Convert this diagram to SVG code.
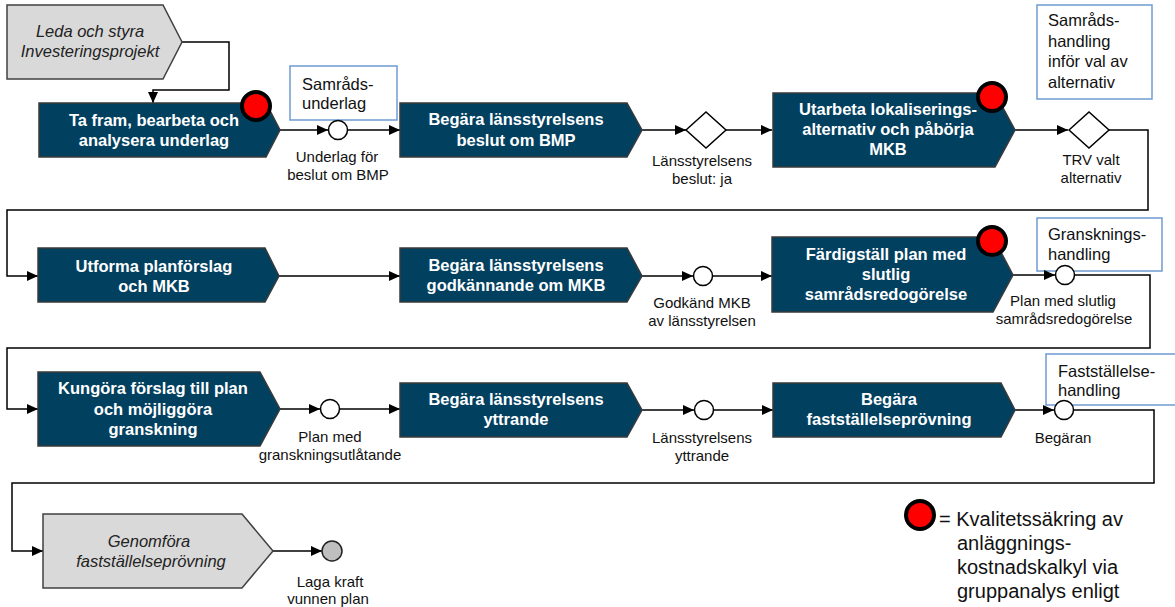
<svg xmlns="http://www.w3.org/2000/svg" width="1175" height="607" viewBox="0 0 1175 607">
<defs>
<marker id="arr" markerUnits="userSpaceOnUse" markerWidth="12" markerHeight="10" refX="11" refY="5" orient="auto">
<path d="M0,0 L11,5 L0,10 Z" fill="#000"/>
</marker>
<style>
.proc{fill:#02405f;stroke:#3a3a3a;stroke-width:1.5}
.ext{fill:#d9d9d9;stroke:#404040;stroke-width:1.5}
.pt{font-family:"Liberation Sans",Arial,sans-serif;font-size:16.5px;font-weight:bold;fill:#fff;text-anchor:middle}
.et{font-family:"Liberation Sans",Arial,sans-serif;font-size:16.5px;font-style:italic;fill:#222;text-anchor:middle}
.lb{font-family:"Liberation Sans",Arial,sans-serif;font-size:15px;fill:#111;text-anchor:middle}
.bt{font-family:"Liberation Sans",Arial,sans-serif;font-size:16.5px;fill:#111}
.doc{fill:#fff;stroke:#6f9bd0;stroke-width:1.5}
.con{fill:none;stroke:#000;stroke-width:1.5}
.ev{fill:#fff;stroke:#000;stroke-width:1.5}
.qa{fill:#f00;stroke:#000;stroke-width:4}
</style>
</defs>
<rect width="1175" height="607" fill="#fff"/>

<!-- document boxes -->
<g id="doc1"><rect class="doc" x="290" y="66" width="107" height="54"/><text class="bt" x="302" y="90">Samråds-</text><text class="bt" x="302" y="109">underlag</text></g>
<g id="doc2"><rect class="doc" x="1037" y="5" width="115" height="94"/><text class="bt" x="1048" y="26">Samråds-</text><text class="bt" x="1048" y="47">handling</text><text class="bt" x="1048" y="67">inför val av</text><text class="bt" x="1048" y="88">alternativ</text></g>
<g id="doc3"><rect class="doc" x="1037" y="218" width="125" height="53"/><text class="bt" x="1048" y="240">Gransknings-</text><text class="bt" x="1048" y="260">handling</text></g>
<g id="doc4"><rect class="doc" x="1046" y="354" width="135" height="51"/><text class="bt" x="1058" y="377">Fastställelse-</text><text class="bt" x="1058" y="396">handling</text></g>

<!-- connectors -->
<g id="connectors">
<path class="con" d="M182,42 H229 V90 H153 V103" marker-end="url(#arr)"/>
<path class="con" d="M280,130 H328" marker-end="url(#arr)"/>
<path class="con" d="M348,130 H400" marker-end="url(#arr)"/>
<path class="con" d="M642,130 H686" marker-end="url(#arr)"/>
<path class="con" d="M726,130 H772" marker-end="url(#arr)"/>
<path class="con" d="M1015,130 H1068" marker-end="url(#arr)"/>
<path class="con" d="M1109,130 H1148 V210 H7 V276 H38" marker-end="url(#arr)"/>
<path class="con" d="M279,276 H400" marker-end="url(#arr)"/>
<path class="con" d="M642,276 H693" marker-end="url(#arr)"/>
<path class="con" d="M713,276 H772" marker-end="url(#arr)"/>
<path class="con" d="M1013,275 H1055" marker-end="url(#arr)"/>
<path class="con" d="M1075,275 H1150 V348 H7 V409 H38" marker-end="url(#arr)"/>
<path class="con" d="M280,409 H320" marker-end="url(#arr)"/>
<path class="con" d="M340,409 H400" marker-end="url(#arr)"/>
<path class="con" d="M642,410 H694" marker-end="url(#arr)"/>
<path class="con" d="M714,410 H773" marker-end="url(#arr)"/>
<path class="con" d="M1015,410 H1054" marker-end="url(#arr)"/>
<path class="con" d="M1074,410 H1154 V483 H12 V551 H43" marker-end="url(#arr)"/>
<path class="con" d="M273,551 H322" marker-end="url(#arr)"/>
</g>

<!-- events / gateways -->
<g id="e1"><circle class="ev" cx="338" cy="130" r="9.5"/><text class="lb" x="337" y="162">Underlag för</text><text class="lb" x="338" y="180">beslut om BMP</text></g>
<g id="g1"><path class="ev" d="M686,130 L706,112 L726,130 L706,148 Z"/><text class="lb" x="702" y="166">Länsstyrelsens</text><text class="lb" x="702" y="184">beslut: ja</text></g>
<g id="g2"><path class="ev" d="M1069,130 L1089,112 L1109,130 L1089,148 Z"/><text class="lb" x="1091" y="165">TRV valt</text><text class="lb" x="1091" y="183">alternativ</text></g>
<g id="e2"><circle class="ev" cx="703" cy="276" r="9.5"/><text class="lb" x="702" y="308">Godkänd MKB</text><text class="lb" x="702" y="326">av länsstyrelsen</text></g>
<g id="e3"><circle class="ev" cx="1065" cy="275" r="9.5"/><text class="lb" x="1063" y="306">Plan med slutlig</text><text class="lb" x="1064" y="324">samrådsredogörelse</text></g>
<g id="e4"><circle class="ev" cx="330" cy="409" r="9.5"/><text class="lb" x="330" y="442">Plan med</text><text class="lb" x="330" y="460">granskningsutlåtande</text></g>
<g id="e5"><circle class="ev" cx="704" cy="410" r="9.5"/><text class="lb" x="702" y="443">Länsstyrelsens</text><text class="lb" x="702" y="461">yttrande</text></g>
<g id="e6"><circle class="ev" cx="1064" cy="410" r="9.5"/><text class="lb" x="1063" y="443">Begäran</text></g>
<g id="e7"><circle cx="332" cy="551" r="10" fill="#bfbfbf" stroke="#222" stroke-width="1.5"/><text class="lb" x="330" y="587">Laga kraft</text><text class="lb" x="328" y="604">vunnen plan</text></g>

<!-- process nodes -->
<g id="n0"><path class="ext" d="M7,5 H163 L182,42 L163,79 H7 Z"/><text class="et" x="90" y="37">Leda och styra</text><text class="et" x="90" y="57">Investeringsprojekt</text></g>
<g id="n1"><path class="proc" d="M39,103 H266 L280,130 L266,157 H39 Z"/><text class="pt" x="154" y="126">Ta fram, bearbeta och</text><text class="pt" x="154" y="146">analysera underlag</text><circle class="qa" cx="256" cy="106" r="14"/></g>
<g id="n2"><path class="proc" d="M400,103 H627 L642,130 L627,157 H400 Z"/><text class="pt" x="516" y="125">Begära länsstyrelsens</text><text class="pt" x="516" y="146">beslut om BMP</text></g>
<g id="n3"><path class="proc" d="M773,93 H995 L1015,130 L995,167 H773 Z"/><text class="pt" x="888" y="115">Utarbeta lokaliserings-</text><text class="pt" x="888" y="135">alternativ och påbörja</text><text class="pt" x="888" y="155">MKB</text><circle class="qa" cx="992" cy="97" r="14"/></g>
<g id="n4"><path class="proc" d="M38,248 H265 L279,276 L265,302 H38 Z"/><text class="pt" x="154" y="272">Utforma planförslag</text><text class="pt" x="154" y="292">och MKB</text></g>
<g id="n5"><path class="proc" d="M400,248 H627 L642,276 L627,302 H400 Z"/><text class="pt" x="516" y="271">Begära länsstyrelsens</text><text class="pt" x="516" y="291">godkännande om MKB</text></g>
<g id="n6"><path class="proc" d="M772,237 H993 L1013,275 L993,312 H772 Z"/><text class="pt" x="886" y="260">Färdigställ plan med</text><text class="pt" x="886" y="280">slutlig</text><text class="pt" x="886" y="300">samrådsredogörelse</text><circle class="qa" cx="992" cy="241" r="14"/></g>
<g id="n7"><path class="proc" d="M38,372 H260 L280,409 L260,446 H38 Z"/><text class="pt" x="153" y="394">Kungöra  förslag till plan</text><text class="pt" x="153" y="415">och möjliggöra</text><text class="pt" x="153" y="435">granskning</text></g>
<g id="n8"><path class="proc" d="M400,383 H627 L642,410 L627,437 H400 Z"/><text class="pt" x="516" y="405">Begära länsstyrelsens</text><text class="pt" x="516" y="425">yttrande</text></g>
<g id="n9"><path class="proc" d="M773,383 H1001 L1015,410 L1001,437 H773 Z"/><text class="pt" x="889" y="405">Begära</text><text class="pt" x="889" y="425">fastställelseprövning</text></g>
<g id="n10"><path class="ext" d="M43,514 H242 L273,551 L242,588 H43 Z"/><text class="et" x="149" y="547">Genomföra</text><text class="et" x="151" y="567">fastställelseprövning</text></g>

<!-- legend -->
<g id="legend">
<circle class="qa" cx="920" cy="515" r="14"/>
<text font-family="'Liberation Sans',Arial,sans-serif" font-size="20px" fill="#111"><tspan x="939" y="526">= Kvalitetssäkring av</tspan><tspan x="957" y="550">anläggnings-</tspan><tspan x="957" y="574">kostnadskalkyl via</tspan><tspan x="957" y="598">gruppanalys enligt</tspan></text>
</g>
</svg>
